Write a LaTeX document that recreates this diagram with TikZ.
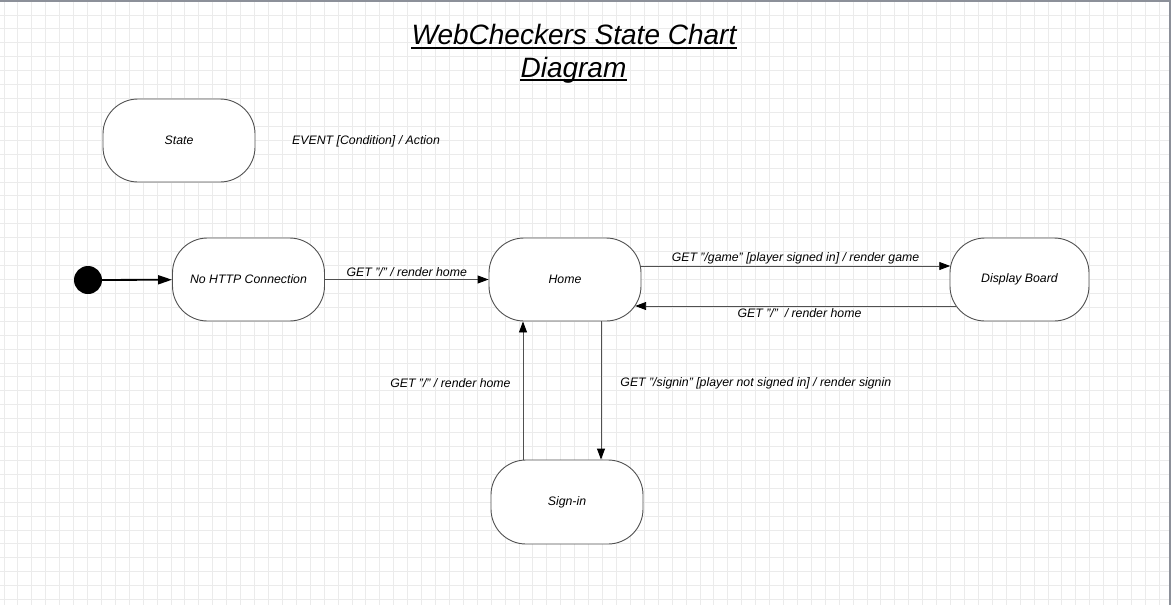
\documentclass[tikz,border=0pt]{standalone}
\usepackage{fontspec}
\setmainfont{Liberation Sans}
\usetikzlibrary{arrows.meta}
\definecolor{gridgray}{HTML}{EBEBEB}
\definecolor{framegray}{HTML}{8C9099}
\definecolor{edgegray}{HTML}{505050}

\begin{document}
\begin{tikzpicture}[x=1pt, y=-1pt,
		state/.style={draw=edgegray, line width=0.9pt, fill=white, rounded corners=35pt,
			minimum width=152pt, minimum height=83pt, inner sep=0pt,
			font=\fontsize{12.3}{14}\selectfont\itshape},
		trans/.style={draw=edgegray, line width=0.9pt, -{Triangle[length=11pt, width=8pt, color=black]}},
		guard/.style={font=\fontsize{12.3}{14}\selectfont\itshape, inner sep=2pt},
		heading/.style={font=\fontsize{28}{32}\selectfont\itshape, inner sep=0pt, anchor=base},
		gridline/.style={draw=gridgray, line width=1pt}]
			%%%%% START %%%%%
			
			\useasboundingbox (0, 0) rectangle (1171, 605);
			
			\foreach \gx in {0,...,84}
				\draw[gridline] ({4+13.92*\gx}, 0) -- ({4+13.92*\gx}, 605);
			\foreach \gy in {0,...,43}
				\draw[gridline] (0, {1.08+13.92*\gy}) -- (1171, {1.08+13.92*\gy});
			
			\draw[framegray, line width=2pt] (0, 1) -- (1171, 1);
			\draw[framegray, line width=1.7pt] (1170.2, 0) -- (1170.2, 605);
			
			\node[heading] (title) at (574, 45) {WebCheckers State Chart};
			\node[heading] (titleb) at (573.5, 77) {Diagram};
			\draw[line width=1.8pt] ([yshift=-3.2pt]title.base west) -- ([yshift=-3.2pt]title.base east);
			\draw[line width=1.8pt] ([yshift=-3.2pt]titleb.base west) -- ([yshift=-3.2pt]titleb.base east);
			
			\node[state] (legend) at (179, 140.5) {State};
			\node[guard, anchor=west] (legendtxt) at (290, 141) {EVENT [Condition] / Action};
			
			\node[circle, fill=black, minimum size=28pt, inner sep=0pt] (init) at (88, 280) {};
			\node[state] (nohttp) at (248.5, 279.5) {No HTTP Connection};
			\node[state] (home) at (565, 279.5) {Home};
			\node[state, minimum width=139pt] (board) at (1019.5, 279.5) {Display Board};
			\node[state, minimum height=84pt] (signin) at (567, 502) {Sign-in};
			
			\draw[trans, draw=black, line width=1.8pt, -{Triangle[length=14pt, width=9pt]}] (init) -- (nohttp);
			\draw[trans] (nohttp) -- node[guard, above] {GET "/" / render home} (home);
			
			\draw[trans] ([xshift=-0.7pt, yshift=13.5pt]home.east) -- node[guard, above, yshift=-0.5pt] {GET "/game" [player signed in] / render game} ([xshift=0.7pt, yshift=13.5pt]board.west);
			\draw[trans] ([xshift=6.3pt, yshift=-26.5pt]board.west) -- node[guard, below, xshift=4pt] {GET "/"\ \ / render home} ([xshift=-6.3pt, yshift=-26.5pt]home.east);
			
			\draw[trans] ([xshift=36pt]home.south) -- node[guard, right, pos=0.45, xshift=17pt] {GET "/signin" [player not signed in] / render signin} ([xshift=34pt]signin.north);
			\draw[trans] ([xshift=-44pt]signin.north) -- node[guard, left, pos=0.55, xshift=-10pt] {GET "/" / render home} ([xshift=-42pt]home.south);
			
			%%%%% END %%%%%
		\end{tikzpicture}
\end{document}
